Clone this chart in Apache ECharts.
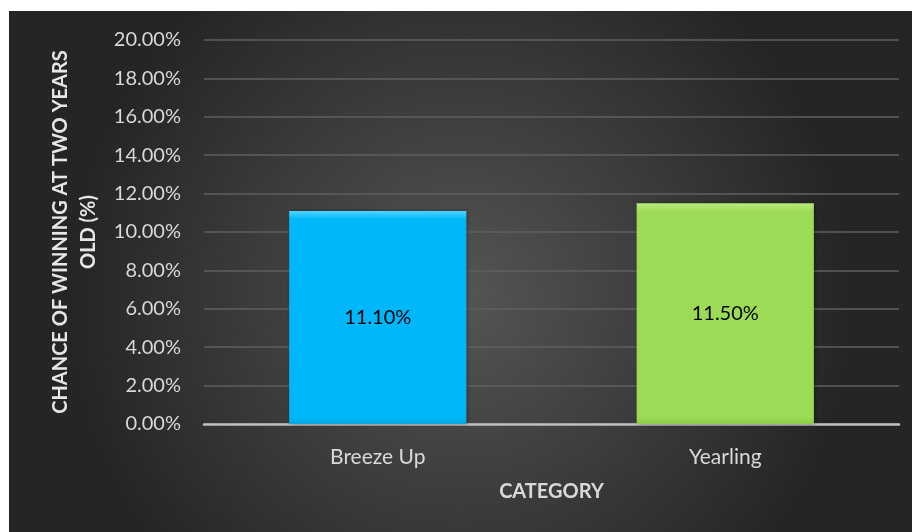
<!DOCTYPE html>
<html>
<head>
<meta charset="utf-8">
<script src="https://cdn.jsdelivr.net/npm/echarts@6/dist/echarts.min.js"></script>
<style>
  html, body { margin: 0; padding: 0; background: #ffffff; }
  #wrap { position: relative; width: 915px; height: 532px; background: #fff; }
  #chart { position: absolute; left: 9px; top: 11px; width: 903px; height: 521px; }
</style>
</head>
<body>
<div id="wrap"><div id="chart"></div></div>
<script>
const categories = ['Breeze Up', 'Yearling'];
const values = [11.10, 11.50];
const barColors = ['#00b7f9', '#9cdb55'];
const barTopColors = ['#4fd6ff', '#b9ea7e'];
const barBottomColors = ['#0aa6e0', '#8ccb48'];
const yTicks = { min: 0, max: 20, interval: 2 };

const chart = echarts.init(document.getElementById('chart'));
const font = 'Lato, "Open Sans", sans-serif';

chart.setOption({
  animation: false,
  backgroundColor: {
    type: 'radial', x: 0.5, y: 0.55, r: 0.75,
    colorStops: [{ offset: 0, color: '#555555' }, { offset: 1, color: '#252525' }]
  },
  grid: { left: 195, right: 13, top: 29, bottom: 108 },
  xAxis: {
    type: 'category',
    data: categories,
    name: 'CATEGORY',
    nameLocation: 'middle',
    nameGap: 58,
    nameTextStyle: { color: '#d9d9d9', fontSize: 20, fontWeight: 'bold', fontFamily: font },
    axisLine: { lineStyle: { color: '#bfbfbf', width: 2.5 } },
    axisTick: { show: false },
    axisLabel: { color: '#d9d9d9', fontSize: 21, fontFamily: font, margin: 23 }
  },
  yAxis: {
    type: 'value',
    min: yTicks.min, max: yTicks.max, interval: yTicks.interval,
    name: 'CHANCE OF WINNING AT TWO YEARS\nOLD (%)',
    nameLocation: 'middle',
    nameGap: 101,
    nameTextStyle: { color: '#e6e6e6', fontSize: 20, fontWeight: 'bold', fontFamily: font, lineHeight: 28 },
    axisLine: { show: false },
    axisTick: { show: false },
    splitLine: { lineStyle: { color: '#5f5f5f', width: 1.5 } },
    axisLabel: {
      color: '#d9d9d9', fontSize: 20, fontFamily: font, margin: 23,
      formatter: v => v.toFixed(2) + '%'
    }
  },
  series: [{
    type: 'bar',
    barWidth: '51%',
    data: values.map((v, i) => ({
      value: v,
      itemStyle: {
        color: {
          type: 'linear', x: 0, y: 0, x2: 0, y2: 1,
          colorStops: [
            { offset: 0, color: barTopColors[i] },
            { offset: 0.04, color: barColors[i] },
            { offset: 0.97, color: barColors[i] },
            { offset: 1, color: barBottomColors[i] }
          ]
        },
        shadowColor: 'rgba(0,0,0,0.35)', shadowBlur: 4, shadowOffsetX: 1
      }
    })),
    label: {
      show: true, position: 'inside', color: '#000000',
      fontSize: 20, fontFamily: font,
      formatter: p => p.value.toFixed(2) + '%'
    }
  }]
});
</script>
</body>
</html>
